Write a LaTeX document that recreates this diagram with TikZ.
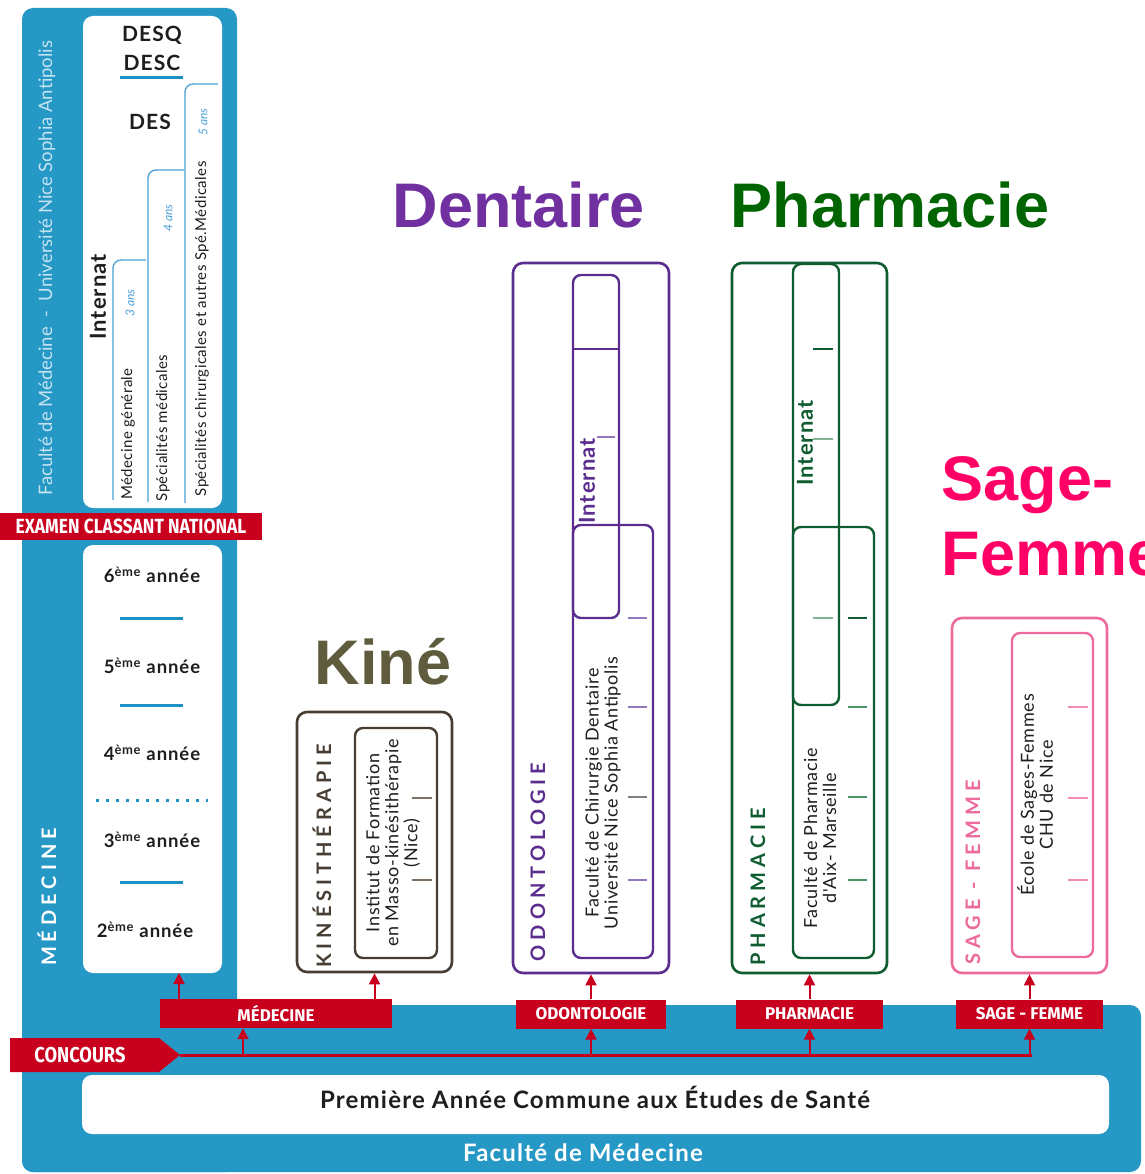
\documentclass[tikz,border=0pt]{standalone}
\usepackage{fontspec}
\setmainfont{Lato}
\newfontfamily\arialfont{Liberation Sans}
\newfontfamily\banfont[FakeStretch=0.85]{Fira Sans}
\newfontfamily\botbanfont{Fira Sans}
\newfontfamily\spfont[LetterSpace=25]{Lato}
\newfontfamily\widefont[LetterSpace=5]{Lato}
\newfontfamily\specfont[LetterSpace=3]{Lato}
\newfontfamily\vfont[LetterSpace=4]{Lato}
\usetikzlibrary{arrows.meta}
\newcommand\setfs[2]{\fontsize{#1}{#2}\selectfont}
\definecolor{medblue}{HTML}{2698C6}
\definecolor{lineblue}{HTML}{1E90C8}
\definecolor{brblue}{HTML}{4AA0D8}
\definecolor{bannerred}{HTML}{C8001E}
\definecolor{lightcol}{HTML}{C4E4F2}
\definecolor{odocol}{HTML}{5A2D8E}
\definecolor{odotick}{HTML}{9177BE}
\definecolor{dentcol}{HTML}{7030A0}
\definecolor{phacol}{HTML}{0F5C30}
\definecolor{phatick}{HTML}{4E9468}
\definecolor{pharmlab}{HTML}{006400}
\definecolor{sfcol}{HTML}{EC6A9C}
\definecolor{sftick}{HTML}{F08CB5}
\definecolor{sflab}{HTML}{FF0066}
\definecolor{kinecol}{HTML}{473D33}
\definecolor{kinetick}{HTML}{7D7165}
\definecolor{kinelab}{HTML}{5E5C3C}
\definecolor{txt}{HTML}{1E1E1E}
\tikzset{
  card/.style={fill=white, rounded corners=10pt, inner sep=0pt},
  obox/.style={draw, line width=2.6pt, rounded corners=10pt, inner sep=0pt},
  ibox/.style={draw, line width=2.4pt, rounded corners=8pt, inner sep=0pt},
  banner/.style={fill=bannerred, text=white, inner sep=0pt},
  vtext/.style={rotate=90, align=center, text=txt, font=\vfont\setfs{18}{19}},
  spaced/.style={rotate=90, font=\spfont\bfseries\setfs{20}{24}},
  biglab/.style={font=\arialfont\bfseries\setfs{63}{75}, anchor=base},
  yearlab/.style={font=\widefont\bfseries\setfs{18.5}{21}, text=txt},
  deslab/.style={font=\widefont\bfseries\setfs{21}{23}, text=txt},
  intlab/.style={rotate=90, font=\widefont\bfseries\setfs{22}{24}},
  tickline/.style={line width=2pt},
  bracket/.style={draw=brblue, line width=1.3pt, rounded corners=8pt},
  anslab/.style={rotate=90, text=brblue, font=\itshape\setfs{12}{14}},
  spec/.style={rotate=90, text=txt, font=\specfont\setfs{15}{17}},
  redarrow/.style={draw=bannerred, line width=2pt, -{Triangle[width=11pt,length=11pt]}},
  botban/.style={banner, minimum height=29pt, font=\botbanfont\bfseries\setfs{17}{19}},
}
\begin{document}
\begin{tikzpicture}[x=1pt,y=-1pt]
\useasboundingbox (0,0) rectangle (1144,1174);
\clip (0,0) rectangle (1144,1174);

% blue background
\fill[medblue, rounded corners=11pt] (22,8) rectangle (237,1172);
\fill[medblue, rounded corners=11pt] (22,1005) rectangle (1141,1172);

% left column
\node[card, minimum width=139pt, minimum height=492pt] (topcard) at (152.5,262) {};
\node[card, minimum width=139pt, minimum height=428pt] (lowcard) at (152.5,759) {};
\node[rotate=90, text=lightcol, font=\setfs{18.5}{20}] (facv) at (47,268) {Faculté de Médecine~~-~~Université Nice Sophia Antipolis};
\node[spaced, text=white] (medv) at (47,897) {MÉDECINE};

\node[deslab] (desq) at (152,35) {DESQ};
\node[deslab] (desc) at (152,63) {DESC};
\draw[lineblue, line width=3pt] (120,78) -- (183,78);
\node[deslab] (des) at (150,122) {DES};

\draw[bracket] (113,500) -- (113,260) -- (146,260);
\draw[bracket] (148,502) -- (148,170) -- (184,170);
\draw[bracket] (185,503) -- (185,84) -- (218,84);
\node[anslab] (a3) at (130,303) {3 ans};
\node[anslab] (a4) at (168,218) {4 ans};
\node[anslab] (a5) at (203,122) {5 ans};
\node[intlab, text=txt] (intm) at (98,297) {Internat};
\node[spec] (mg) at (128,434) {Médecine générale};
\node[spec] (sm) at (163,428) {Spécialités médicales};
\node[spec] (sc) at (202,329) {Spécialités chirurgicales et autres Spé.Médicales};

\node[banner, minimum width=262pt, minimum height=27pt, font=\banfont\bfseries\setfs{20.5}{22}] (ecn) at (131,526.5) {EXAMEN CLASSANT NATIONAL};

\node[yearlab] (y6) at (152,575) {6\textsuperscript{ème} année};
\draw[lineblue, line width=3pt] (120,618) -- (183,618);
\node[yearlab] (y5) at (152,666) {5\textsuperscript{ème} année};
\draw[lineblue, line width=3pt] (120,705) -- (183,705);
\node[yearlab] (y4) at (152,753) {4\textsuperscript{ème} année};
\draw[lineblue, line width=3pt, dash pattern=on 3pt off 7pt] (96,800) -- (208,800);
\node[yearlab] (y3) at (152,840) {3\textsuperscript{ème} année};
\draw[lineblue, line width=3pt] (120,882) -- (183,882);
\node[yearlab] (y2) at (145,930) {2\textsuperscript{ème} année};

% big labels
\node[biglab, text=kinelab] (kinelabel) at (383,684) {Kiné};
\node[biglab, text=dentcol] (dentlabel) at (519,228) {Dentaire};
\node[biglab, text=pharmlab] (pharmlabel) at (890,228) {Pharmacie};
\node[biglab, text=sflab, anchor=base west] (sage1) at (938,500) {Sage-};
\node[biglab, text=sflab, anchor=base west] (sage2) at (938,575) {Femme};

% Kine
\node[obox, draw=kinecol, minimum width=155pt, minimum height=260pt] (kine) at (374.5,842) {};
\node[ibox, draw=kinecol, minimum width=82pt, minimum height=230pt] (kinein) at (396,843) {};
\node[spaced, text=kinecol] (kinev) at (322,856) {KINÉSITHÉRAPIE};
\node[vtext] (kinet) at (393,843) {Institut de Formation\\en Masso-kinésithérapie\\(Nice)};
\draw[tickline, kinetick] (412,798) -- (432,798);
\draw[tickline, kinetick] (412,880) -- (432,880);

% Odontologie
\node[obox, draw=odocol, minimum width=156pt, minimum height=710pt] (odo) at (591,618) {};
\node[ibox, draw=odocol, minimum width=46pt, minimum height=343pt] (odoup) at (596,446.5) {};
\node[ibox, draw=odocol, minimum width=80pt, minimum height=433pt] (odolow) at (613,741.5) {};
\draw[odocol, line width=1.5pt] (573,349) -- (619,349);
\node[intlab, text=odocol] (odoint) at (587,481) {Internat};
\node[vtext] (odot) at (603,793) {Faculté de Chirurgie Dentaire\\Université Nice Sophia Antipolis};
\node[spaced, text=odocol] (odov) at (538,862) {ODONTOLOGIE};
\draw[tickline, odotick] (597,437) -- (615,437);
\draw[tickline, odotick] (628,618) -- (647,618);
\draw[tickline, odotick] (628,707) -- (647,707);
\draw[tickline, gray] (628,797) -- (647,797);
\draw[tickline, odotick] (628,880) -- (647,880);

% Pharmacie
\node[obox, draw=phacol, minimum width=155pt, minimum height=710pt] (pha) at (809.5,618) {};
\node[ibox, draw=phacol, minimum width=46pt, minimum height=441pt] (phaup) at (816,484.5) {};
\node[ibox, draw=phacol, minimum width=81pt, minimum height=431pt] (phalow) at (833.5,742.5) {};
\node[intlab, text=phacol] (phaint) at (805,443) {Internat};
\node[vtext] (phat) at (820,838) {Faculté de Pharmacie\\d'Aix- Marseille};
\node[spaced, text=phacol] (phav) at (758,887) {PHARMACIE};
\draw[tickline, phacol] (813,349) -- (833,349);
\draw[tickline, phatick!70] (813,439) -- (833,439);
\draw[tickline, phatick!70] (813,618) -- (833,618);
\draw[tickline, phacol] (848,618) -- (867,618);
\draw[tickline, phatick] (848,707) -- (867,707);
\draw[tickline, phatick] (848,797) -- (867,797);
\draw[tickline, phatick] (848,880) -- (867,880);

% Sage-femme
\node[obox, draw=sfcol, minimum width=155pt, minimum height=355pt] (sf) at (1029.5,795.5) {};
\node[ibox, draw=sfcol, minimum width=81pt, minimum height=324pt] (sfin) at (1052.5,795) {};
\node[vtext] (sft) at (1035,795) {École de Sages-Femmes\\CHU de Nice};
\node[spaced, text=sfcol] (sfv) at (973,872) {SAGE - FEMME};
\draw[tickline, sftick] (1068,707) -- (1088,707);
\draw[tickline, sftick] (1068,798) -- (1088,798);
\draw[tickline, sftick] (1068,880) -- (1088,880);

% bottom
\node[card, minimum width=1027pt, minimum height=59pt] (paces) at (595.5,1104.5) {};
\node[font=\widefont\bfseries\setfs{24}{26}, text=txt] (pacestxt) at (595,1097) {Première Année Commune aux Études de Santé};
\node[font=\widefont\bfseries\setfs{24}{26}, text=white] (facm) at (583,1153) {Faculté de Médecine};

% banners
\node[botban, minimum width=232pt] (medban) at (276,1013.5) {MÉDECINE};
\node[botban, minimum width=150pt] (odoban) at (591,1014) {ODONTOLOGIE};
\node[botban, minimum width=147pt] (phaban) at (809.5,1014) {PHARMACIE};
\node[botban, minimum width=147pt] (sfban) at (1029.5,1014) {SAGE - FEMME};

\fill[bannerred] (10,1038) -- (159,1038) -- (180,1055) -- (159,1072) -- (10,1072) -- cycle;
\node[text=white, font=\banfont\bfseries\setfs{21.5}{23}] (concours) at (80,1055) {CONCOURS};
\coordinate (conctip) at (180,1055);
\coordinate (lineend) at (1032,1055);
\coordinate (jm) at (243,1055);
\coordinate (ac) at (179,973);
\draw[bannerred, line width=3pt] (conctip) -- (lineend);

\draw[redarrow] (jm) -- (medban.south -| jm);
\draw[redarrow] (odoban.south |- conctip) -- (odoban.south);
\draw[redarrow] (phaban.south |- conctip) -- (phaban.south);
\draw[redarrow] (sfban.south |- conctip) -- (sfban.south);

\draw[redarrow] (medban.north -| ac) -- (ac);
\draw[redarrow] (medban.north -| kine.south) -- (kine.south);
\draw[redarrow] (odoban.north) -- (odo.south);
\draw[redarrow] (phaban.north) -- (pha.south);
\draw[redarrow] (sfban.north) -- (sf.south);
\end{tikzpicture}
\end{document}
